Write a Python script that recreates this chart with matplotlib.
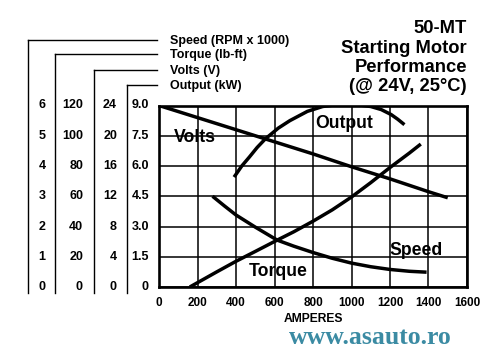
import numpy as np
import matplotlib
matplotlib.use("Agg")
import matplotlib.pyplot as plt
from matplotlib.lines import Line2D
from matplotlib.transforms import blended_transform_factory

plt.rcParams['font.family'] = ['Liberation Sans', 'DejaVu Sans']

# curve readings (amperes vs value)
volts_amps = [0, 200, 400, 600, 800, 1000, 1200, 1400, 1500]
volts_v = [24, 22.4, 20.8, 19.2, 17.6, 15.9, 14.3, 12.6, 11.8]

output_amps = [390, 430, 470, 510, 553, 620, 680, 771, 850, 930, 1000, 1100, 1154, 1206, 1240, 1275]
output_kw = [5.45, 6.0, 6.45, 6.92, 7.35, 7.88, 8.25, 8.71, 8.95, 9.05, 9.08, 8.95, 8.8, 8.55, 8.32, 8.05]

torque_amps = [160, 300, 400, 500, 614, 700, 800, 900, 1000, 1100, 1200, 1300, 1360]
torque_lbft = [0, 10, 17, 23.5, 31, 36.5, 43.5, 51, 59.5, 69, 79, 88.5, 94.5]

speed_amps = [278, 340, 400, 500, 614, 700, 800, 900, 1000, 1100, 1200, 1300, 1390]
speed_krpm = [3.0, 2.68, 2.38, 1.98, 1.55, 1.35, 1.14, 0.95, 0.79, 0.67, 0.58, 0.52, 0.49]

amp_ticks = [0, 200, 400, 600, 800, 1000, 1200, 1400, 1600]
speed_ticks = [0, 1, 2, 3, 4, 5, 6]
torque_ticks = [0, 20, 40, 60, 80, 100, 120]
volts_ticks = [0, 4, 8, 12, 16, 20, 24]
output_ticks = [0, 1.5, 3.0, 4.5, 6.0, 7.5, 9.0]

scale_names = ["Speed (RPM x 1000)", "Torque (lb-ft)", "Volts (V)", "Output (kW)"]
title_lines = ["50-MT", "Starting Motor", "Performance", "(@ 24V, 25\u00b0C)"]

W, H = 497, 350
fig = plt.figure(figsize=(W / 100, H / 100), dpi=100)


def fx(px):
    return px / W


def fy(py):
    return 1 - py / H


ax = fig.add_axes([fx(159), fy(287), (467 - 159) / W, (287 - 105.5) / H])
ax.set_xlim(0, 1600)
ax.set_ylim(0, 9)
ax.set_xticks(amp_ticks)
ax.set_xticklabels([str(t) for t in amp_ticks], fontsize=8.5, fontweight='bold')
ax.set_yticks(output_ticks)
ax.set_yticklabels([])
ax.tick_params(length=0, pad=7)
ax.grid(True, color='black', lw=1.1)
for s in ax.spines.values():
    s.set_linewidth(1.9)
ax.set_xlabel("AMPERES", fontsize=8.7, fontweight='bold', labelpad=3)

tv = ax.twinx()
tv.set_ylim(0, 24)
tt = ax.twinx()
tt.set_ylim(0, 120)
ts = ax.twinx()
ts.set_ylim(0, 6)
for a in (tv, tt, ts):
    a.axis('off')

lw = 2.5
ax.plot(output_amps, output_kw, color='black', lw=lw, solid_capstyle='butt')
tv.plot(volts_amps, volts_v, color='black', lw=lw, solid_capstyle='butt')
tt.plot(torque_amps, torque_lbft, color='black', lw=lw, solid_capstyle='butt')
ts.plot(speed_amps, speed_krpm, color='black', lw=lw, solid_capstyle='butt')

lab = dict(fontsize=12.7, fontweight='bold', ha='center', va='center')
tv.text(188, 19.8, "Volts", **lab)
ax.text(961, 8.1, "Output", **lab)
tt.text(620, 10, "Torque", **lab)
ts.text(1336, 1.22, "Speed", **lab)

# stacked scales on the left
columns = [
    (ts, speed_ticks, 42, 'center', lambda v: f"{v:d}"),
    (tt, torque_ticks, 83, 'right', lambda v: f"{v:d}"),
    (tv, volts_ticks, 117, 'right', lambda v: f"{v:d}"),
    (ax, output_ticks, 149, 'right', lambda v: "0" if v == 0 else f"{v:.1f}"),
]
for a, ticks, px, ha, fmt in columns:
    tr = blended_transform_factory(fig.transFigure, a.transData)
    for v in ticks:
        a.text(fx(px), v, fmt(v), transform=tr, ha=ha, va='center',
               fontsize=9, fontweight='bold', clip_on=False)

line_x = [28, 54.5, 94, 127]
line_y = [40, 54, 70, 85]
for name, lx, ly in zip(scale_names, line_x, line_y):
    fig.add_artist(Line2D([fx(lx), fx(lx)], [fy(ly), fy(293)], color='black', lw=1.0))
    fig.add_artist(Line2D([fx(lx), fx(157)], [fy(ly), fy(ly)], color='black', lw=1.0))
    fig.text(fx(170), fy(ly + 3.6), name, fontsize=9, fontweight='bold', va='baseline')

for line, base in zip(title_lines, [33.3, 53.0, 71.7, 90.7]):
    fig.text(fx(467), fy(base), line, fontsize=13.2, fontweight='bold',
             ha='right', va='baseline')

fig.text(fx(370), fy(338), "www.asauto.ro", family='Liberation Serif', fontweight='bold',
         fontsize=18.5, color='#3b8ba3', ha='center', va='center')

fig.savefig("out.png", dpi=100)
